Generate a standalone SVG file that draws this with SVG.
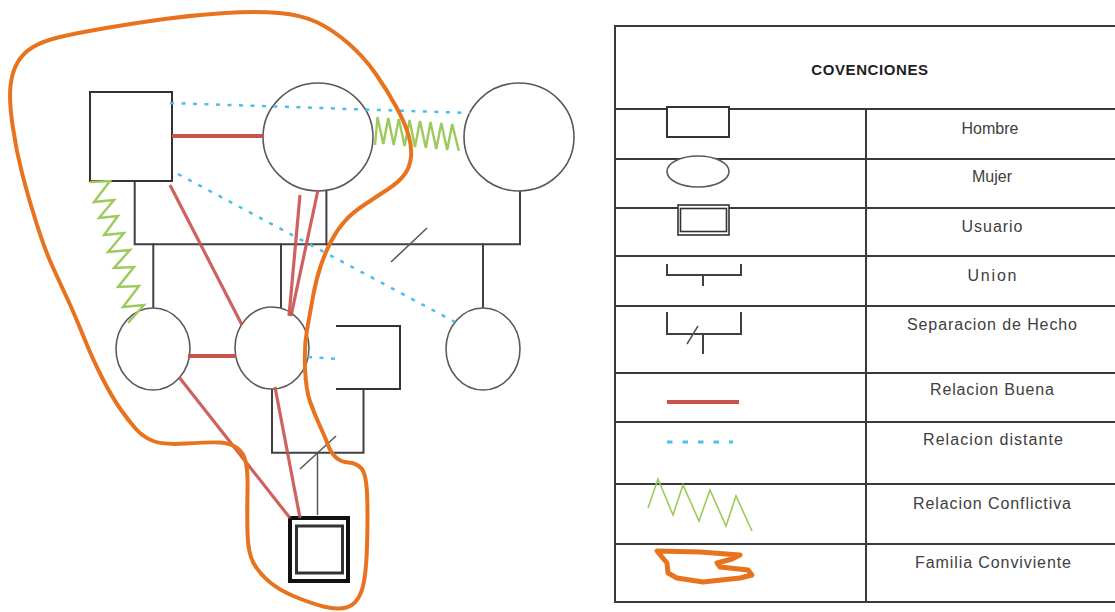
<svg xmlns="http://www.w3.org/2000/svg" width="1115" height="612" viewBox="0 0 1115 612">
<defs>
<style>
.bg{fill:#ffffff}
.line{fill:none;stroke:#404040;stroke-width:2;stroke-linecap:square}
.thin{fill:none;stroke:#555;stroke-width:1.5}
.man{fill:#fff;stroke:#333;stroke-width:2}
.woman{fill:#fff;stroke:#595959;stroke-width:1.6}
.good{fill:none;stroke:#C9514E;stroke-width:4;stroke-linecap:butt}
.good2{fill:none;stroke:#C9514E;stroke-width:3.2;stroke-opacity:0.9}
.dist{fill:none;stroke:#4BBFEA;stroke-width:2.5;stroke-dasharray:4 7.5}
.conf{fill:none;stroke:#9CCB5C;stroke-width:2.4;stroke-linejoin:miter}
.fam{fill:none;stroke:#E8731E;stroke-width:4;stroke-linejoin:round;stroke-linecap:round}
.tbl{fill:none;stroke:#3a3a3a;stroke-width:2}
.lbl{font-family:"Liberation Sans",Arial,sans-serif;font-size:16px;fill:#404040;text-anchor:middle}
.title{font-family:"Liberation Sans",Arial,sans-serif;font-size:15px;font-weight:bold;fill:#1e1e1e;text-anchor:middle}
</style>
</defs>
<rect class="bg" x="0" y="0" width="1115" height="612"/>

<!-- family structure lines -->
<g id="structure">
<path class="line" d="M134.7,181 V244.3 H520 V190.7"/>
<path class="line" d="M326.4,190.7 V244.3"/>
<path class="line" d="M153.3,244.3 V308"/>
<path class="line" d="M281,244.3 V308"/>
<path class="line" d="M483,244.3 V308"/>
<path class="thin" d="M391,262 L427,228"/>
<path class="line" d="M272,389 V452.7 H363.5 V389"/>
<path class="thin" d="M317.5,452.7 V515"/>
<path class="thin" d="M300,469 L336,436"/>
</g>

<!-- nodes -->
<g id="grandfather"><rect class="man" x="90" y="92" width="82" height="89"/></g>
<g id="grandmother"><ellipse class="woman" cx="318" cy="137" rx="55" ry="54"/></g>
<g id="grandmother2"><ellipse class="woman" cx="519" cy="137" rx="55" ry="54"/></g>
<g id="child1"><ellipse class="woman" cx="153" cy="349" rx="37" ry="41"/></g>
<g id="child2"><ellipse class="woman" cx="272" cy="348" rx="37" ry="41"/></g>
<g id="child3"><ellipse class="woman" cx="483" cy="349" rx="37" ry="41"/></g>
<g id="partner"><path class="man" style="fill:none" d="M336,326 H400 V389 H336"/></g>
<g id="usuario">
<rect x="290" y="518" width="58" height="63" fill="#fff" stroke="#111" stroke-width="4"/>
<rect x="296.5" y="526" width="46" height="47" fill="#fff" stroke="#333" stroke-width="3"/>
</g>

<!-- connectors / relations -->
<g id="connectors">
<path class="good" d="M172,136 H263"/>
<path class="good" d="M188,356 H236"/>
<path class="good2" d="M170,185 L242,325"/>
<path class="good2" d="M300,195 L289,316"/>
<path class="good2" d="M318,190 L291,316"/>
<path class="good2" d="M179,377 L290,518"/>
<path class="good2" d="M275,387 L300,518"/>
<path class="dist" d="M170,103 L470,113"/>
<path class="dist" d="M178,174 L455,322"/>
<path class="dist" d="M308,357 L337,359"/>
<polyline class="conf" points="375,145 377.5,117 383.3,144 388.3,118 393.7,145 398.8,119 404.6,146 409.6,120 415,147 420,121 425.9,148 430.5,122 436.3,149 441.3,123 447.2,150 452.2,124 458.8,151"/>
<polyline class="conf" points="90,182 110,181 94,202 114,200 99,218 118,216 104,235 124,233 108,252 130,250 114,268 134,267 118,287 139,286 123,307 144,305 128,323"/>
<path class="fam" d="M225,13 Q256,11 279,13 Q302,15 317.5,22.5 Q333,30 348.5,43.5 Q364,57 375.5,73.5 Q387,90 396,106.5 Q405,123 408.5,135 Q412,147 411,157 Q410,167 404.5,174.5 Q399,182 387.5,189.5 Q376,197 364,205 Q352,213 344.5,221.5 Q337,230 331,241.5 Q325,253 320.5,266.5 Q316,280 313,296.5 Q310,313 307,330 Q304,347 305,368.5 Q306,390 310,401.5 Q314,413 319.5,425 Q325,437 328,445 Q331,453 336,457.5 Q341,462 348.5,462.5 Q356,463 361,468 Q366,473 367,493 Q368,513 367,546.5 Q366,580 361,592.5 Q356,605 346.5,607.5 Q337,610 323.5,606.5 Q310,603 294.5,596.5 Q279,590 269,581.5 Q259,573 253.5,563 Q248,553 247.5,533 Q247,513 247.5,493 Q248,473 246,463 Q244,453 237,448 Q230,443 219.5,442.5 Q209,442 186,443.5 Q163,445 153,441 Q143,437 135.5,428.5 Q128,420 120,408.5 Q112,397 102.5,378.5 Q93,360 83.5,336.5 Q74,313 67,298 Q60,283 52.5,266.5 Q45,250 37,225 Q29,200 22.5,175 Q16,150 12.5,125 Q9,100 10.5,86 Q12,72 17.5,62.5 Q23,53 33,47 Q43,41 60,37 Q77,33 106,28 Q135,23 164.5,19 Q194,15 225,13 Z"/>
</g>

<!-- legend -->
<g id="legend">
<path class="tbl" d="M1115,26 H615 V602 H1115"/>
<path class="tbl" d="M615,109 H1115 M615,159 H1115 M615,208 H1115 M615,256 H1115 M615,306 H1115 M615,373 H1115 M615,422 H1115 M615,484 H1115 M615,544 H1115"/>
<path class="tbl" d="M866,109 V602"/>
<text class="title" x="870" y="75" letter-spacing="0.6">COVENCIONES</text>

<rect class="man" x="667" y="107" width="62" height="30"/>
<ellipse class="woman" cx="698" cy="171.5" rx="31" ry="15.5"/>
<rect x="678" y="205" width="51" height="30" fill="#fff" stroke="#333" stroke-width="1.6"/>
<rect x="680.5" y="208.5" width="46" height="23" fill="none" stroke="#333" stroke-width="1.6"/>
<path class="line" d="M667,265 V275 H741 V265 M703,275 V285"/>
<path class="line" d="M667,313 V334 H741 V313 M703,334 V353"/>
<path class="thin" d="M687,344 L698,326"/>
<path class="good" d="M667,402 H739"/>
<path class="dist" style="stroke-width:3;stroke-dasharray:5.5 10" d="M667,442 H733"/>
<polyline class="conf" style="stroke-width:1.6" points="648,508 658,479 673,515 683,485 699,521 710,490 726,526 736,496 752,531"/>
<path class="fam" style="stroke-width:5" d="M657,551 L700,552 L740,555 L732,559 L717,563 L720,567 L748,570 L752,575 L740,578 L703,582 L677,578 L668,573 L667,563 L662,557 Z"/>

<text class="lbl" x="990" y="134">Hombre</text>
<text class="lbl" x="992" y="182">Mujer</text>
<text class="lbl" x="992" y="232" textLength="61" lengthAdjust="spacing">Usuario</text>
<text class="lbl" x="992" y="281" textLength="49" lengthAdjust="spacing">Union</text>
<text class="lbl" x="992" y="330" textLength="170" lengthAdjust="spacing">Separacion de Hecho</text>
<text class="lbl" x="992" y="395" textLength="124" lengthAdjust="spacing">Relacion Buena</text>
<text class="lbl" x="993" y="445" textLength="140" lengthAdjust="spacing">Relacion distante</text>
<text class="lbl" x="992" y="509" textLength="158" lengthAdjust="spacing">Relacion Conflictiva</text>
<text class="lbl" x="993" y="568" textLength="156" lengthAdjust="spacing">Familia Conviviente</text>
</g>
</svg>
